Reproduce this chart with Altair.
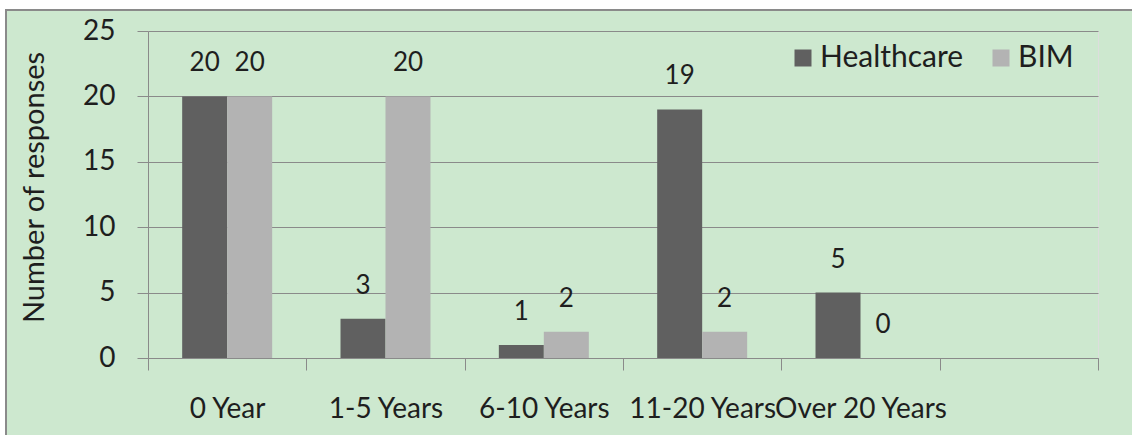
import altair as alt
import pandas as pd

categories = ["0 Year", "1-5 Years", "6-10 Years", "11-20 Years", "Over 20 Years", " "]
series = ["Healthcare", "BIM"]
healthcare = [20, 3, 1, 19, 5]
bim = [20, 20, 2, 2, 0]
colors = ["#606060", "#b3b3b3"]

rows = []
for c, h, b in zip(categories[:5], healthcare, bim):
    rows.append({"cat": c, "series": "Healthcare", "value": h})
    rows.append({"cat": c, "series": "BIM", "value": b})
df = pd.DataFrame(rows)

FONT = "Lato"
TXT = "#1e1e1e"
GRAY = "#8a8a8a"

x_enc = alt.X("cat:N", sort=categories,
              scale=alt.Scale(domain=categories, paddingInner=0, paddingOuter=0),
              axis=alt.Axis(title=None, labelAngle=0, tickBand="extent", ticks=True,
                            tickSize=12, tickColor=GRAY, domainColor=GRAY,
                            labelFontSize=28, labelColor=TXT, labelPadding=25,
                            grid=False, labelFont=FONT))
xo_enc = alt.XOffset("series:N", sort=series,
                     scale=alt.Scale(domain=series, paddingInner=0, paddingOuter=0.76))
y_enc = alt.Y("value:Q", scale=alt.Scale(domain=[0, 25], nice=False),
              axis=alt.Axis(title="Number of responses", values=[0, 5, 10, 15, 20, 25],
                            tickSize=11, tickColor=GRAY, domainColor=GRAY,
                            gridColor=GRAY, gridWidth=1, grid=True,
                            labelFontSize=28, labelColor=TXT, labelPadding=22,
                            labelFont=FONT, titleFont=FONT, titleFontSize=29,
                            titleFontWeight="normal", titleColor=TXT,
                            titleX=-114, titleY=156, titleAngle=270,
                            titleAlign="center", titleBaseline="middle"))

bars = alt.Chart(df).mark_bar(size=45).encode(
    x=x_enc, xOffset=xo_enc, y=y_enc,
    color=alt.Color("series:N", sort=series,
                    scale=alt.Scale(domain=series, range=colors),
                    legend=alt.Legend(title=None, orient="none", legendX=640, legendY=12,
                                      direction="horizontal", symbolType="square",
                                      symbolSize=289, symbolStrokeWidth=0,
                                      labelFontSize=30, labelFont=FONT, labelColor=TXT,
                                      labelOffset=2, columnPadding=22, padding=0)),
)

labels = alt.Chart(df).mark_text(baseline="bottom", dy=-20, fontSize=26, font=FONT,
                                 color=TXT).encode(
    x=alt.X("cat:N", sort=categories), xOffset=alt.XOffset("series:N", sort=series),
    y="value:Q", text="value:Q")

blank = alt.Data(values=[{"k": 1}])
white_top = alt.Chart(blank).mark_rect(color="white").encode(
    x=alt.value(-160), x2=alt.value(1100), y=alt.value(-40), y2=alt.value(-21))
white_left = alt.Chart(blank).mark_rect(color="white").encode(
    x=alt.value(-160), x2=alt.value(-142), y=alt.value(-40), y2=alt.value(600))
border = alt.Chart(blank).mark_rect(fillOpacity=0, fill="white", stroke=GRAY,
                                    strokeWidth=2).encode(
    x=alt.value(-142), x2=alt.value(1100), y=alt.value(-21), y2=alt.value(600))

chart = alt.layer(white_top, white_left, border, bars, labels).properties(
    width=950, height=327,
    autosize=alt.AutoSizeParams(type="none"),
    padding={"left": 148, "top": 31, "right": 34, "bottom": 77},
    background="#cde8cf",
).configure_view(stroke=None).configure(font=FONT)

chart.save("out.html", embed_options={"renderer": "svg", "actions": False})
